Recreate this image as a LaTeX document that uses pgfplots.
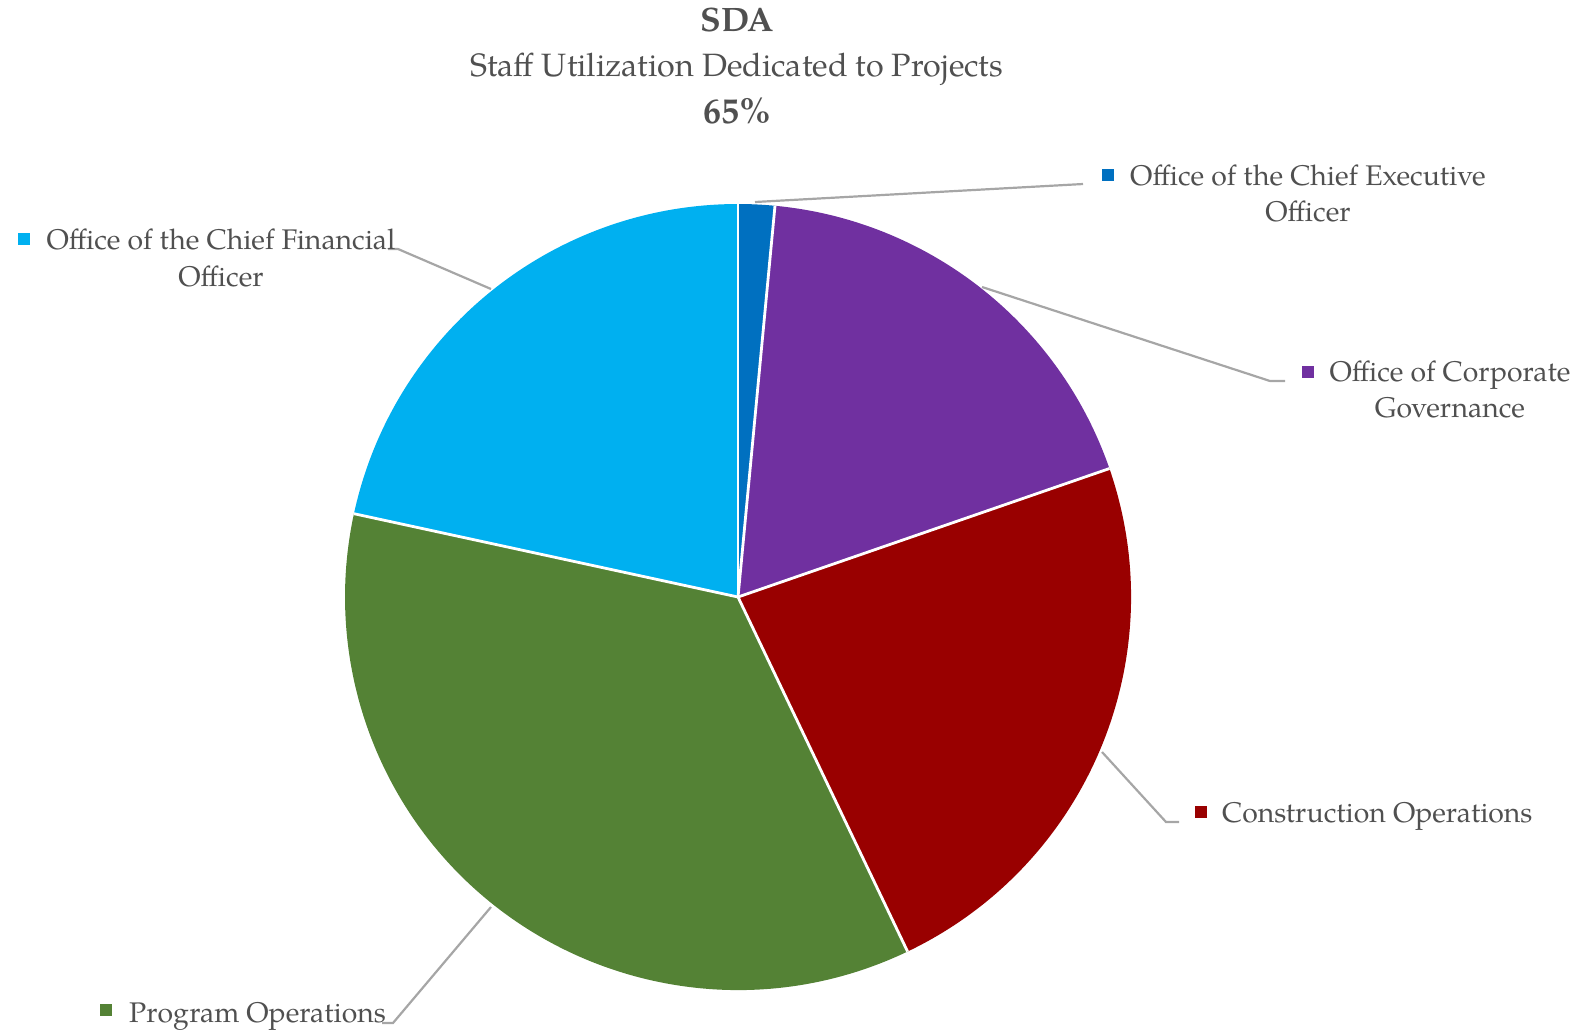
\documentclass[border=0pt]{standalone}
\usepackage{pgfplots}
\pgfplotsset{compat=1.18}
\usepackage{pgfplotstable}
\usepackage{fontspec}
\setmainfont{TeX Gyre Pagella}
\definecolor{ceo}{HTML}{0070C0}
\definecolor{ocg}{HTML}{7030A0}
\definecolor{con}{HTML}{990000}
\definecolor{prog}{HTML}{548235}
\definecolor{cfo}{HTML}{00B0F0}
\definecolor{txt}{HTML}{505050}
\definecolor{lead}{HTML}{A6A6A6}
% shares of staff (percent), clockwise from 12 o'clock
\pgfplotstableread{
share colname
1.5 ceo
18.2 ocg
23.2 con
35.5 prog
21.6 cfo
}\piedata
\newcommand\cumul{0}
\pgfplotsforeachungrouped \i in {0,...,4}{%
  \pgfplotstablegetelem{\i}{share}\of\piedata
  \pgfmathsetmacro\sa{90-3.6*\cumul}%
  \pgfmathsetmacro\newcum{\cumul+\pgfplotsretval}%
  \pgfmathsetmacro\ea{90-3.6*\newcum}%
  \expandafter\xdef\csname sa\i\endcsname{\sa}%
  \expandafter\xdef\csname ea\i\endcsname{\ea}%
  \xdef\cumul{\newcum}%
}
\newcommand\lab{\fontsize{28.5}{36}\selectfont}
\newcommand\ttl{\fontsize{32.4}{40}\selectfont}
\begin{document}
\begin{tikzpicture}
\useasboundingbox (0,0) rectangle (1580bp,1033bp);
\begin{axis}[at={(0,0)}, anchor=south west, width=1580bp, height=1033bp,
  scale only axis, xmin=0, xmax=1580, ymin=0, ymax=1033, y dir=reverse,
  axis lines=none, clip=false]
\def\cx{738}\def\cy{597}\def\R{393bp}
\pgfplotsinvokeforeach{0,...,4}{%
  \pgfplotstablegetelem{#1}{colname}\of\piedata
  \edef\thecol{\pgfplotsretval}%
  \edef\dofill{\noexpand\fill[\thecol] (axis cs:\cx,\cy) -- ++(\csname sa#1\endcsname:\R) arc[start angle=\csname sa#1\endcsname, end angle=\csname ea#1\endcsname, radius=\R] -- cycle;}%
  \dofill
}
\pgfplotsinvokeforeach{0,...,4}{%
  \edef\dodraw{\noexpand\draw[white, line width=2.8bp] (axis cs:\cx,\cy) -- ++(\csname sa#1\endcsname:\R);}%
  \dodraw
}
% leader lines
\draw[lead, line width=2.2bp] (axis cs:755,202) -- (axis cs:1083,184);
\draw[lead, line width=2.2bp] (axis cs:982,287) -- (axis cs:1270,381) -- (axis cs:1285,381);
\draw[lead, line width=2.2bp] (axis cs:1102,752) -- (axis cs:1166,822) -- (axis cs:1179,822);
\draw[lead, line width=2.2bp] (axis cs:491,907) -- (axis cs:393,1023) -- (axis cs:382,1023);
\draw[lead, line width=2.2bp] (axis cs:491,289) -- (axis cs:398,249) -- (axis cs:388,249);
% markers
\fill[ceo]  (axis cs:1102,169) rectangle (axis cs:1114,181);
\fill[ocg]  (axis cs:1302,366) rectangle (axis cs:1314,378);
\fill[con]  (axis cs:1195,806) rectangle (axis cs:1207,818);
\fill[prog] (axis cs:100,1004) rectangle (axis cs:112,1016);
\fill[cfo]  (axis cs:18,233) rectangle (axis cs:30,245);
% labels
\node[anchor=base, text=txt, font=\lab, inner sep=0] at (axis cs:1308,185) {Office of the Chief Executive};
\node[anchor=base, text=txt, font=\lab, inner sep=0] at (axis cs:1308,221) {Officer};
\node[anchor=base, text=txt, font=\lab, inner sep=0] at (axis cs:1450,381) {Office of Corporate};
\node[anchor=base, text=txt, font=\lab, inner sep=0] at (axis cs:1450,417) {Governance};
\node[anchor=base west, text=txt, font=\lab, inner sep=0] at (axis cs:1222,822) {Construction Operations};
\node[anchor=base west, text=txt, font=\lab, inner sep=0] at (axis cs:129,1022) {Program Operations};
\node[anchor=base, text=txt, font=\lab, inner sep=0] at (axis cs:221,249) {Office of the Chief Financial};
\node[anchor=base, text=txt, font=\lab, inner sep=0] at (axis cs:221,286) {Officer};
% title
\node[anchor=base, text=txt, font=\fontsize{34}{40}\selectfont\bfseries, inner sep=0] at (axis cs:737,31) {SDA};
\node[anchor=base, text=txt, font=\ttl, inner sep=0] at (axis cs:737,76) {Staff Utilization Dedicated to Projects};
\node[anchor=base, text=txt, font=\fontsize{36}{40}\selectfont\bfseries, inner sep=0] at (axis cs:737,123) {65\%};
\end{axis}
\end{tikzpicture}
\end{document}
